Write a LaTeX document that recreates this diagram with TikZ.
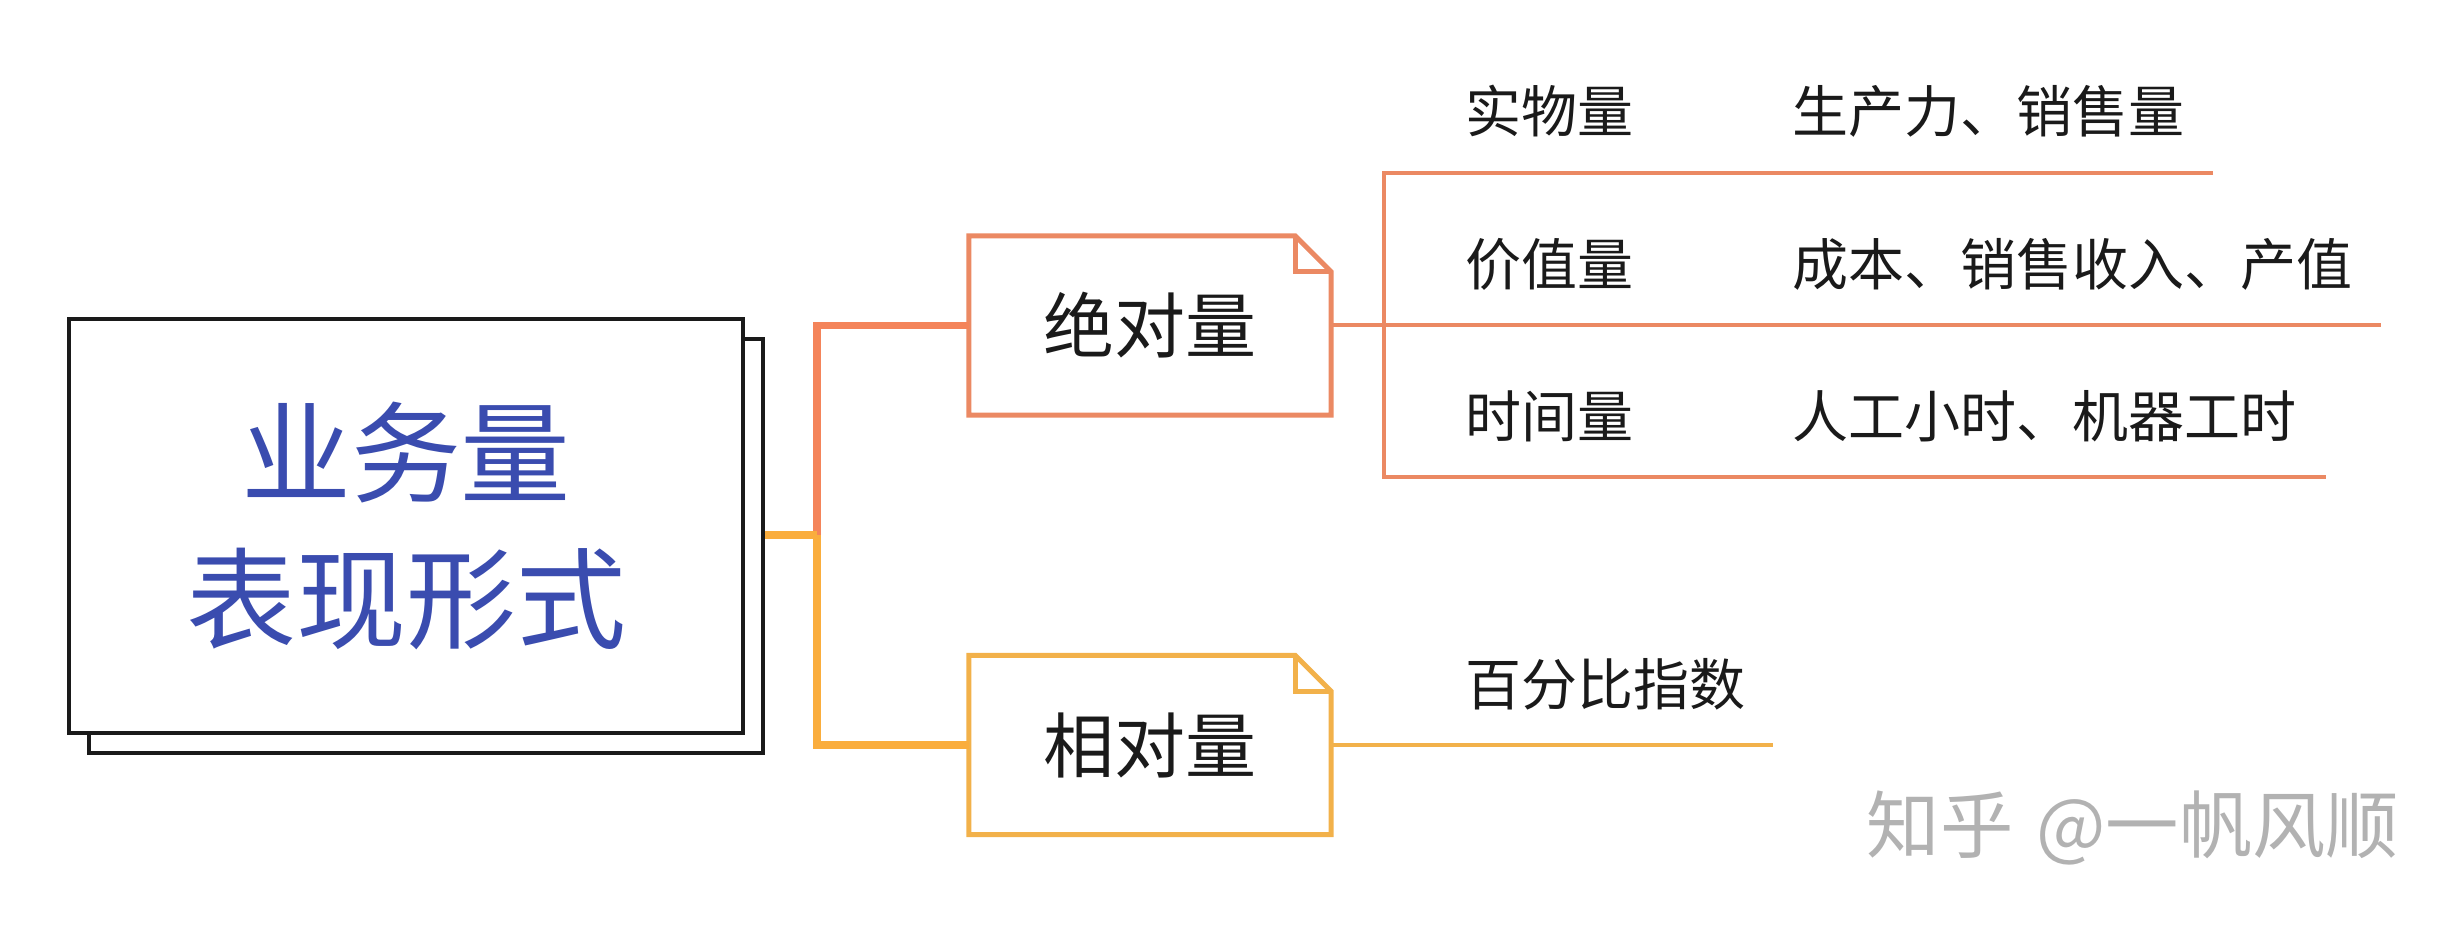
\documentclass[tikz,border=0pt]{standalone}
\usepackage{fontspec}
\newfontfamily\cjk{Noto Sans CJK SC}
\definecolor{titleblue}{RGB}{58,76,175}
\definecolor{txt}{RGB}{26,26,26}
\definecolor{brA}{RGB}{244,132,90}
\definecolor{brY}{RGB}{250,173,61}
\definecolor{boxA}{RGB}{235,137,99}
\definecolor{boxY}{RGB}{242,177,74}
\definecolor{wmgray}{RGB}{178,178,178}
\begin{document}
\begin{tikzpicture}[x=0.3pt,y=-0.3pt,
  mainbox/.style={draw=txt, line width=1.4pt, fill=white, minimum width=202.2pt, minimum height=124.2pt, inner sep=0pt},
  notebox/.style={minimum width=108.3pt, minimum height=53.4pt, inner sep=0pt, text=txt, font=\cjk\fontsize{21.3}{26}\selectfont},
  lbl/.style={font=\cjk\fontsize{16.8}{20}\selectfont, text=txt, inner sep=0pt, anchor=west},
  branchA/.style={draw=brA, line width=2.3pt, line join=miter},
  branchY/.style={draw=brY, line width=2.3pt, line join=miter},
  lineA/.style={draw=boxA, line width=1.2pt},
  lineY/.style={draw=boxY, line width=1.2pt},
  foldA/.style={draw=boxA, line width=1.5pt, line join=miter},
  foldY/.style={draw=boxY, line width=1.5pt, line join=miter}]
\useasboundingbox (0,0) rectangle (2459,929);
% main box with shadow copy
\node[mainbox] (mb2) at (426,546) {};
\node[mainbox, text=titleblue, align=center, font=\cjk\fontsize{33}{44}\selectfont] (mb) at (406,526) {业务量\\表现形式};
% note boxes
\node[notebox] (a1) at (1150,325.5) {绝对量};
\node[notebox] (a2) at (1150,745) {相对量};
\foreach \n/\s in {a1/foldA,a2/foldY}{
  \draw[\s] (\n.south west) -- (\n.north west) -- ([xshift=-10.8pt]\n.north east) -- ([yshift=-10.8pt]\n.north east) -- (\n.south east) -- cycle;
  \draw[\s] ([xshift=-10.8pt]\n.north east) -- ([xshift=-10.8pt,yshift=-10.8pt]\n.north east) -- ([yshift=-10.8pt]\n.north east);
}
% branches
\coordinate (j) at (817,535);
\draw[branchA] (j) |- (a1.west);
\draw[branchY] (mb2.east |- j) -- (j);
\draw[branchY] (j) |- (a2.west);
% right side lines
\coordinate (b1) at (1384,173);
\coordinate (b3) at (1384,477);
\coordinate (e1) at (2213,173);
\coordinate (e2) at (2381,325.5);
\coordinate (e3) at (2326,477);
\coordinate (e4) at (1773,745);
\draw[lineA] (e1) -- (b1) -- (b3) -- (e3);
\draw[lineA] (a1.east) -- (e2);
\draw[lineY] (a2.east) -- (e4);
% labels
\node[lbl] (r1a) at (1465,111) {实物量};
\node[lbl] (r1b) at (1792,111) {生产力、销售量};
\node[lbl] (r2a) at (1465,264) {价值量};
\node[lbl] (r2b) at (1792,264) {成本、销售收入、产值};
\node[lbl] (r3a) at (1465,416) {时间量};
\node[lbl] (r3b) at (1792,416) {人工小时、机器工时};
\node[lbl] (r4a) at (1465,684) {百分比指数};
% watermark
\node[inner sep=0pt, anchor=west, text=wmgray, font=\cjk\fontsize{22}{26}\selectfont] (wm) at (1866,828) {知乎\hspace{2pt} @一帆风顺};
\end{tikzpicture}
\end{document}
